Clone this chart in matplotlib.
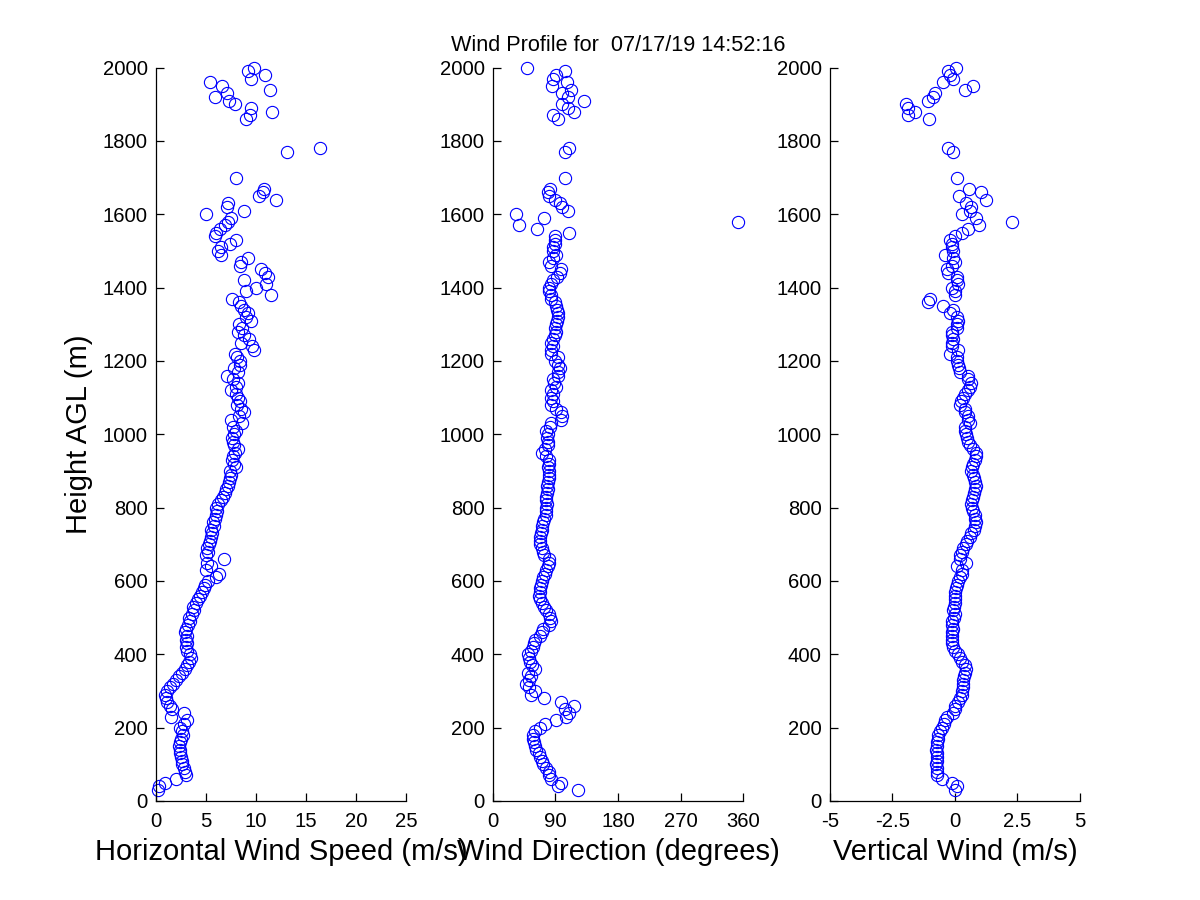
"""
Wind profile plot: horizontal speed, direction and vertical wind vs height AGL,
three side-by-side panels in the old MATLAB look (open circles, no box).
"""

import matplotlib
matplotlib.use("Agg")
import matplotlib.pyplot as plt

plt.rcParams["font.family"] = ["Liberation Sans", "DejaVu Sans"]

TITLE = "Wind Profile for  07/17/19 14:52:16"

# ── data ────────────────────────────────────────────────────────────────────

HEIGHT = [
    30, 40, 50, 60, 70, 80, 90, 100, 110, 120,
    130, 140, 150, 160, 170, 180, 190, 200, 210, 220,
    230, 240, 250, 260, 270, 280, 290, 300, 310, 320,
    330, 340, 350, 360, 370, 380, 390, 400, 410, 420,
    430, 440, 450, 460, 470, 480, 490, 500, 510, 520,
    530, 540, 550, 560, 570, 580, 590, 600, 610, 620,
    630, 640, 650, 660, 670, 680, 690, 700, 710, 720,
    730, 740, 750, 760, 770, 780, 790, 800, 810, 820,
    830, 840, 850, 860, 870, 880, 890, 900, 910, 920,
    930, 940, 950, 960, 970, 980, 990, 1000, 1010, 1020,
    1030, 1040, 1050, 1060, 1070, 1080, 1090, 1100, 1110, 1120,
    1130, 1140, 1150, 1160, 1170, 1180, 1190, 1200, 1210, 1220,
    1230, 1240, 1250, 1260, 1270, 1280, 1290, 1300, 1310, 1320,
    1330, 1340, 1350, 1360, 1370, 1380, 1390, 1400, 1410, 1420,
    1430, 1440, 1450, 1460, 1470, 1480, 1490, 1500, 1510, 1520,
    1530, 1540, 1550, 1560, 1570, 1580, 1590, 1600, 1610, 1620,
    1630, 1640, 1650, 1660, 1670,
    1700,
    1770, 1780,
    1860, 1870, 1880, 1890, 1900, 1910, 1920, 1930, 1940, 1950,
    1960, 1970, 1980, 1990, 2000,
]

SPEED = [
    0.2, 0.3, 0.9, 2.0, 3.0, 2.9, 2.8, 2.6, 2.6, 2.5,
    2.4, 2.4, 2.3, 2.4, 2.5, 2.7, 2.6, 2.4, 2.8, 3.1,
    1.5, 2.8, 1.6, 1.4, 1.1, 1.0, 0.9, 1.1, 1.4, 1.7,
    2.0, 2.3, 2.6, 2.9, 3.1, 3.3, 3.5, 3.4, 3.1, 3.0,
    3.1, 3.0, 3.1, 2.9, 3.0, 3.2, 3.4, 3.3, 3.6, 3.8,
    3.7, 4.0, 4.2, 4.4, 4.6, 4.8, 4.9, 5.2, 6.0, 6.3,
    5.0, 5.5, 5.1, 6.8, 5.0, 5.2, 5.1, 5.3, 5.4, 5.5,
    5.6, 5.5, 5.8, 5.7, 5.9, 6.0, 6.1, 6.0, 6.2, 6.5,
    6.7, 6.9, 7.0, 7.2, 7.3, 7.4, 7.5, 7.4, 8.0, 7.8,
    7.6, 7.7, 7.9, 8.2, 7.8, 7.7, 7.6, 7.8, 8.0, 7.7,
    8.6, 7.5, 8.3, 8.8, 8.5, 8.1, 8.4, 8.2, 8.0, 7.5,
    8.0, 8.2, 7.7, 7.1, 8.2, 7.8, 8.4, 8.4, 8.1, 7.9,
    9.8, 9.6, 8.5, 9.3, 8.8, 8.2, 8.6, 8.3, 9.5, 9.0,
    9.2, 8.8, 8.5, 8.3, 7.6, 11.5, 9.0, 10.0, 11.0, 8.8,
    11.2, 10.9, 10.5, 8.4, 8.5, 9.2, 6.5, 6.2, 6.5, 7.4,
    8.0, 5.9, 6.0, 6.4, 6.9, 7.2, 7.5, 5.0, 8.8, 7.1,
    7.2, 12.0, 10.3, 10.7, 10.8,
    8.0,
    13.1, 16.4,
    9.0, 9.4, 11.6, 9.5, 7.9, 7.3, 5.9, 7.1, 11.4, 6.6,
    5.4, 9.5, 10.9, 9.2, 9.8,
]

DIRECTION = [
    122, 93, 98, 84, 81, 80, 77, 72, 70, 67,
    66, 62, 61, 59, 57, 58, 60, 68, 75, 91,
    105, 110, 103, 117, 98, 74, 55, 60, 52, 48,
    52, 55, 50, 60, 56, 53, 52, 50, 55, 57,
    59, 61, 68, 70, 72, 81, 84, 82, 80, 77,
    74, 70, 67, 66, 67, 68, 69, 71, 72, 75,
    77, 79, 81, 80, 74, 72, 70, 68, 67, 68,
    69, 70, 71, 72, 74, 77, 76, 77, 78, 77,
    77, 78, 79, 78, 79, 80, 81, 80, 79, 80,
    81, 76, 70, 75, 79, 79, 78, 79, 77, 82,
    84, 98, 100, 98, 91, 84, 86, 84, 86, 84,
    91, 88, 86, 93, 94, 96, 93, 90, 93, 84,
    84, 86, 84, 87, 90, 91, 90, 91, 92, 93,
    93, 92, 91, 90, 84, 84, 81, 81, 84, 86,
    92, 96, 98, 84, 81, 86, 91, 86, 86, 89,
    89, 89, 110, 64, 37, 353, 73, 33, 108, 100,
    97, 90, 81, 79, 82,
    104,
    104, 110,
    93, 86, 116, 108, 100, 131, 108, 100, 112, 85,
    106, 86, 91, 103, 49,
]

VERTICAL = [
    0.0, 0.07, -0.13, -0.53, -0.73, -0.73, -0.73, -0.75, -0.73, -0.72,
    -0.73, -0.74, -0.73, -0.72, -0.68, -0.66, -0.6, -0.53, -0.45, -0.4,
    -0.33, -0.07, 0.0, 0.0, 0.13, 0.2, 0.27, 0.3, 0.33, 0.33,
    0.33, 0.35, 0.4, 0.46, 0.4, 0.27, 0.2, 0.13, 0.0, -0.07,
    -0.13, -0.13, -0.13, -0.1, -0.07, -0.1, -0.13, -0.05, 0.0, -0.07,
    -0.03, 0.0, 0.0, 0.0, 0.0, 0.05, 0.07, 0.13, 0.2, 0.27,
    0.27, 0.07, 0.46, 0.2, 0.2, 0.3, 0.33, 0.46, 0.5, 0.6,
    0.66, 0.75, 0.8, 0.86, 0.8, 0.8, 0.73, 0.7, 0.66, 0.7,
    0.73, 0.76, 0.8, 0.86, 0.8, 0.76, 0.73, 0.66, 0.7, 0.73,
    0.8, 0.83, 0.86, 0.73, 0.6, 0.53, 0.5, 0.46, 0.4, 0.4,
    0.6, 0.53, 0.53, 0.4, 0.4, 0.2, 0.25, 0.33, 0.4, 0.53,
    0.6, 0.66, 0.53, 0.53, 0.2, 0.15, 0.13, 0.1, 0.07, -0.2,
    0.13, -0.13, -0.1, -0.07, -0.13, -0.13, 0.07, 0.1, 0.13, 0.07,
    -0.2, -0.07, -0.46, -1.06, -1.0, 0.0, 0.0, -0.13, 0.13, 0.07,
    0.07, -0.27, -0.33, -0.1, 0.0, -0.07, -0.4, -0.07, -0.13, -0.13,
    -0.2, 0.0, 0.3, 0.53, 0.97, 2.28, 0.86, 0.27, 0.6, 0.66,
    0.46, 1.26, 0.17, 1.06, 0.57,
    0.09,
    -0.07, -0.27,
    -1.02, -1.86, -1.6, -1.86, -1.95, -1.06, -0.86, -0.8, 0.4, 0.73,
    -0.46, -0.09, -0.2, -0.27, 0.04,
]

SPEED_TICKS = [0, 5, 10, 15, 20, 25]
DIR_TICKS = [0, 90, 180, 270, 360]
VERT_TICKS = [-5, -2.5, 0, 2.5, 5]
VERT_TICK_LABELS = ["-5", "-2.5", "0", "2.5", "5"]
HEIGHT_TICKS = [0, 200, 400, 600, 800, 1000, 1200, 1400, 1600, 1800, 2000]

LABEL_SIZE = 21
TICK_SIZE = 14.6


# ── helpers ─────────────────────────────────────────────────────────────────

def matlab_axes(ax, xticks, xlim, xlabel, xticklabels=None):
    """Style one panel like a MATLAB subplot with 'box off'."""
    ax.set_xlim(*xlim)
    ax.set_ylim(0, 2000)
    ax.set_xticks(xticks)
    if xticklabels is not None:
        ax.set_xticklabels(xticklabels)
    ax.set_yticks(HEIGHT_TICKS)
    ax.spines["top"].set_visible(False)
    ax.spines["right"].set_visible(False)
    for side in ("left", "bottom"):
        ax.spines[side].set_linewidth(0.9)
    ax.tick_params(direction="in", length=6, width=0.9, labelsize=TICK_SIZE,
                   top=False, right=False)
    ax.tick_params(axis="x", pad=8)
    ax.tick_params(axis="y", pad=6)
    ax.set_xlabel(xlabel, fontsize=LABEL_SIZE, labelpad=5)


def scatter_profile(ax, x, y):
    ax.plot(x, y, linestyle="none", marker="o", markersize=8.8,
            markerfacecolor="none", markeredgecolor="blue",
            markeredgewidth=0.8, clip_on=False)


# ── main ────────────────────────────────────────────────────────────────────

def main():
    fig = plt.figure(figsize=(12, 9), dpi=100)

    # MATLAB default subplot(1,3,k) positions
    ax_spd = fig.add_axes([0.1300, 0.1100, 0.2084, 0.8150])
    ax_dir = fig.add_axes([0.4108, 0.1100, 0.2084, 0.8150])
    ax_vrt = fig.add_axes([0.6916, 0.1100, 0.2084, 0.8150])

    scatter_profile(ax_spd, SPEED, HEIGHT)
    matlab_axes(ax_spd, SPEED_TICKS, (0, 25), "Horizontal Wind Speed (m/s)")
    ax_spd.set_ylabel("Height AGL (m)", fontsize=LABEL_SIZE, labelpad=7)

    scatter_profile(ax_dir, DIRECTION, HEIGHT)
    matlab_axes(ax_dir, DIR_TICKS, (0, 360), "Wind Direction (degrees)")
    ax_dir.set_title(TITLE, fontsize=15.6, pad=12)

    scatter_profile(ax_vrt, VERTICAL, HEIGHT)
    matlab_axes(ax_vrt, VERT_TICKS, (-5, 5), "Vertical Wind (m/s)",
                xticklabels=VERT_TICK_LABELS)

    fig.savefig("out.png", dpi=100, facecolor="white")
    plt.close(fig)


if __name__ == "__main__":
    main()
